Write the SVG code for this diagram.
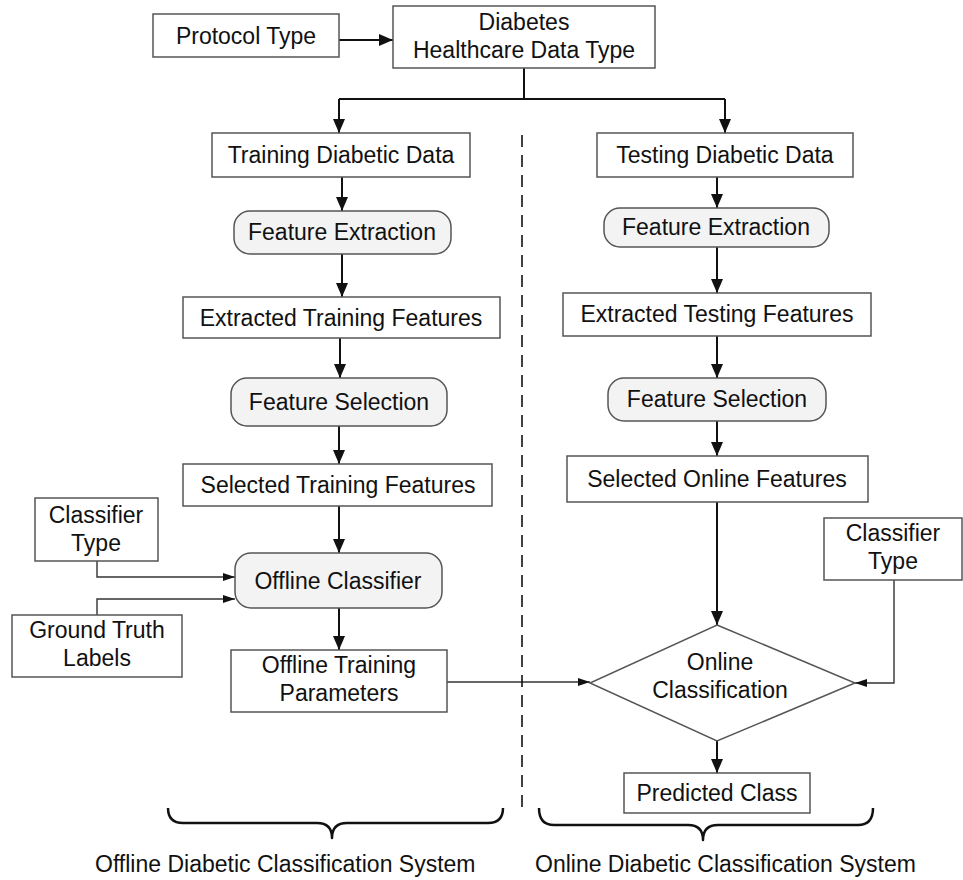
<svg xmlns="http://www.w3.org/2000/svg" width="963" height="880" viewBox="0 0 963 880">
  <style>
    .box { fill: #ffffff; stroke: #555555; stroke-width: 1.5; }
    .proc { fill: #f3f3f3; stroke: #555555; stroke-width: 1.5; }
    .lbl { font-family: "Liberation Sans", Arial, sans-serif; font-size: 23px; fill: #111111; text-anchor: middle; }
    .cap { font-family: "Liberation Sans", Arial, sans-serif; font-size: 23px; fill: #111111; }
    .flow { fill: none; stroke: #111111; stroke-width: 2; }
    .side { fill: none; stroke: #333333; stroke-width: 1.4; }
    .brace { fill: none; stroke: #111111; stroke-width: 2.5; stroke-linejoin: round; }
  </style>
  <defs>
    <marker id="arrow" markerUnits="userSpaceOnUse" markerWidth="14" markerHeight="12" refX="14" refY="6" orient="auto">
      <path d="M0,0 L14,6 L0,12 z" fill="#111111"/>
    </marker>
    <marker id="arrowSmall" markerUnits="userSpaceOnUse" markerWidth="12" markerHeight="8" refX="12" refY="4" orient="auto">
      <path d="M0,0 L12,4 L0,8 z" fill="#111111"/>
    </marker>
  </defs>

  <rect width="963" height="880" fill="#ffffff"/>

  <!-- connectors -->
  <g id="connectors">
    <line x1="339" y1="40" x2="393" y2="40" class="flow" marker-end="url(#arrow)"/>
    <path d="M524,68 V99 M339,99 H725" class="flow"/>
    <line x1="339" y1="99" x2="339" y2="133" class="flow" marker-end="url(#arrow)"/>
    <line x1="725" y1="99" x2="725" y2="133" class="flow" marker-end="url(#arrow)"/>

    <!-- offline column -->
    <line x1="342" y1="177" x2="342" y2="211" class="flow" marker-end="url(#arrow)"/>
    <line x1="342" y1="254" x2="342" y2="297" class="flow" marker-end="url(#arrow)"/>
    <line x1="340" y1="338" x2="340" y2="378" class="flow" marker-end="url(#arrow)"/>
    <line x1="339" y1="426" x2="339" y2="464" class="flow" marker-end="url(#arrow)"/>
    <line x1="339" y1="506" x2="339" y2="553" class="flow" marker-end="url(#arrow)"/>
    <line x1="339" y1="608" x2="339" y2="650" class="flow" marker-end="url(#arrow)"/>
    <polyline points="97,561 97,577 235,577" class="side" marker-end="url(#arrowSmall)"/>
    <polyline points="97,615 97,599 235,599" class="side" marker-end="url(#arrowSmall)"/>
    <line x1="447" y1="682" x2="590" y2="682" class="side" marker-end="url(#arrowSmall)"/>

    <!-- online column -->
    <line x1="717" y1="177" x2="717" y2="208" class="flow" marker-end="url(#arrow)"/>
    <line x1="717" y1="247" x2="717" y2="293" class="flow" marker-end="url(#arrow)"/>
    <line x1="717" y1="336" x2="717" y2="378" class="flow" marker-end="url(#arrow)"/>
    <line x1="717" y1="421" x2="717" y2="456" class="flow" marker-end="url(#arrow)"/>
    <line x1="717" y1="502" x2="717" y2="625" class="flow" marker-end="url(#arrow)"/>
    <line x1="717" y1="741" x2="717" y2="773" class="flow" marker-end="url(#arrow)"/>
    <polyline points="894,580 894,683 855,683" class="side" marker-end="url(#arrowSmall)"/>

    <!-- divider between the two systems -->
    <line x1="522" y1="135" x2="522" y2="813" stroke="#111111" stroke-width="1.6" stroke-dasharray="12,8"/>
  </g>

  <!-- nodes -->
  <g id="protocol-type">
    <rect x="153" y="14" width="186" height="43" class="box"/>
    <text x="246" y="44" class="lbl">Protocol Type</text>
  </g>
  <g id="data-type">
    <rect x="393" y="6" width="262" height="62" class="box"/>
    <text x="524" y="30" class="lbl">Diabetes</text>
    <text x="524" y="58" class="lbl">Healthcare Data Type</text>
  </g>

  <g id="training-data">
    <rect x="212" y="133" width="258" height="44" class="box"/>
    <text x="341" y="163" class="lbl">Training Diabetic Data</text>
  </g>
  <g id="offline-feature-extraction">
    <rect x="234" y="211" width="217" height="43" rx="16" class="proc"/>
    <text x="342" y="240" class="lbl">Feature Extraction</text>
  </g>
  <g id="extracted-training-features">
    <rect x="183" y="297" width="317" height="41" class="box"/>
    <text x="341" y="326" class="lbl">Extracted Training Features</text>
  </g>
  <g id="offline-feature-selection">
    <rect x="231" y="378" width="216" height="48" rx="16" class="proc"/>
    <text x="339" y="410" class="lbl">Feature Selection</text>
  </g>
  <g id="selected-training-features">
    <rect x="183" y="464" width="309" height="42" class="box"/>
    <text x="338" y="493" class="lbl">Selected Training Features</text>
  </g>
  <g id="offline-classifier">
    <rect x="235" y="553" width="207" height="55" rx="16" class="proc"/>
    <text x="338" y="589" class="lbl">Offline Classifier</text>
  </g>
  <g id="classifier-type-offline">
    <rect x="35" y="498" width="123" height="63" class="box"/>
    <text x="96" y="523" class="lbl">Classifier</text>
    <text x="96" y="551" class="lbl">Type</text>
  </g>
  <g id="ground-truth-labels">
    <rect x="12" y="615" width="170" height="62" class="box"/>
    <text x="97" y="638" class="lbl">Ground Truth</text>
    <text x="97" y="666" class="lbl">Labels</text>
  </g>
  <g id="offline-training-parameters">
    <rect x="231" y="650" width="216" height="62" class="box"/>
    <text x="339" y="673" class="lbl">Offline Training</text>
    <text x="339" y="701" class="lbl">Parameters</text>
  </g>

  <g id="testing-data">
    <rect x="597" y="133" width="256" height="44" class="box"/>
    <text x="725" y="163" class="lbl">Testing Diabetic Data</text>
  </g>
  <g id="online-feature-extraction">
    <rect x="604" y="208" width="225" height="39" rx="16" class="proc"/>
    <text x="716" y="235" class="lbl">Feature Extraction</text>
  </g>
  <g id="extracted-testing-features">
    <rect x="563" y="293" width="308" height="43" class="box"/>
    <text x="717" y="322" class="lbl">Extracted Testing Features</text>
  </g>
  <g id="online-feature-selection">
    <rect x="608" y="378" width="218" height="43" rx="16" class="proc"/>
    <text x="717" y="407" class="lbl">Feature Selection</text>
  </g>
  <g id="selected-online-features">
    <rect x="567" y="456" width="301" height="46" class="box"/>
    <text x="717" y="487" class="lbl">Selected Online Features</text>
  </g>
  <g id="classifier-type-online">
    <rect x="824" y="518" width="138" height="62" class="box"/>
    <text x="893" y="541" class="lbl">Classifier</text>
    <text x="893" y="569" class="lbl">Type</text>
  </g>
  <g id="online-classification">
    <polygon points="717,625 855,683 717,741 590,683" class="box"/>
    <text x="720" y="670" class="lbl">Online</text>
    <text x="720" y="698" class="lbl">Classification</text>
  </g>
  <g id="predicted-class">
    <rect x="624" y="773" width="186" height="40" class="box"/>
    <text x="717" y="801" class="lbl">Predicted Class</text>
  </g>

  <!-- system groupings -->
  <g id="offline-system">
    <path d="M168,808 Q168,823 183,823 L317,823 Q332,823 332,838 Q332,823 347,823 L488,823 Q503,823 503,808" class="brace"/>
    <text x="95" y="872" class="cap">Offline Diabetic Classification System</text>
  </g>
  <g id="online-system">
    <path d="M539,808 Q539,825 554,825 L688,825 Q703,825 703,840 Q703,825 718,825 L858,825 Q873,825 873,808" class="brace"/>
    <text x="535" y="872" class="cap">Online Diabetic Classification System</text>
  </g>
</svg>
